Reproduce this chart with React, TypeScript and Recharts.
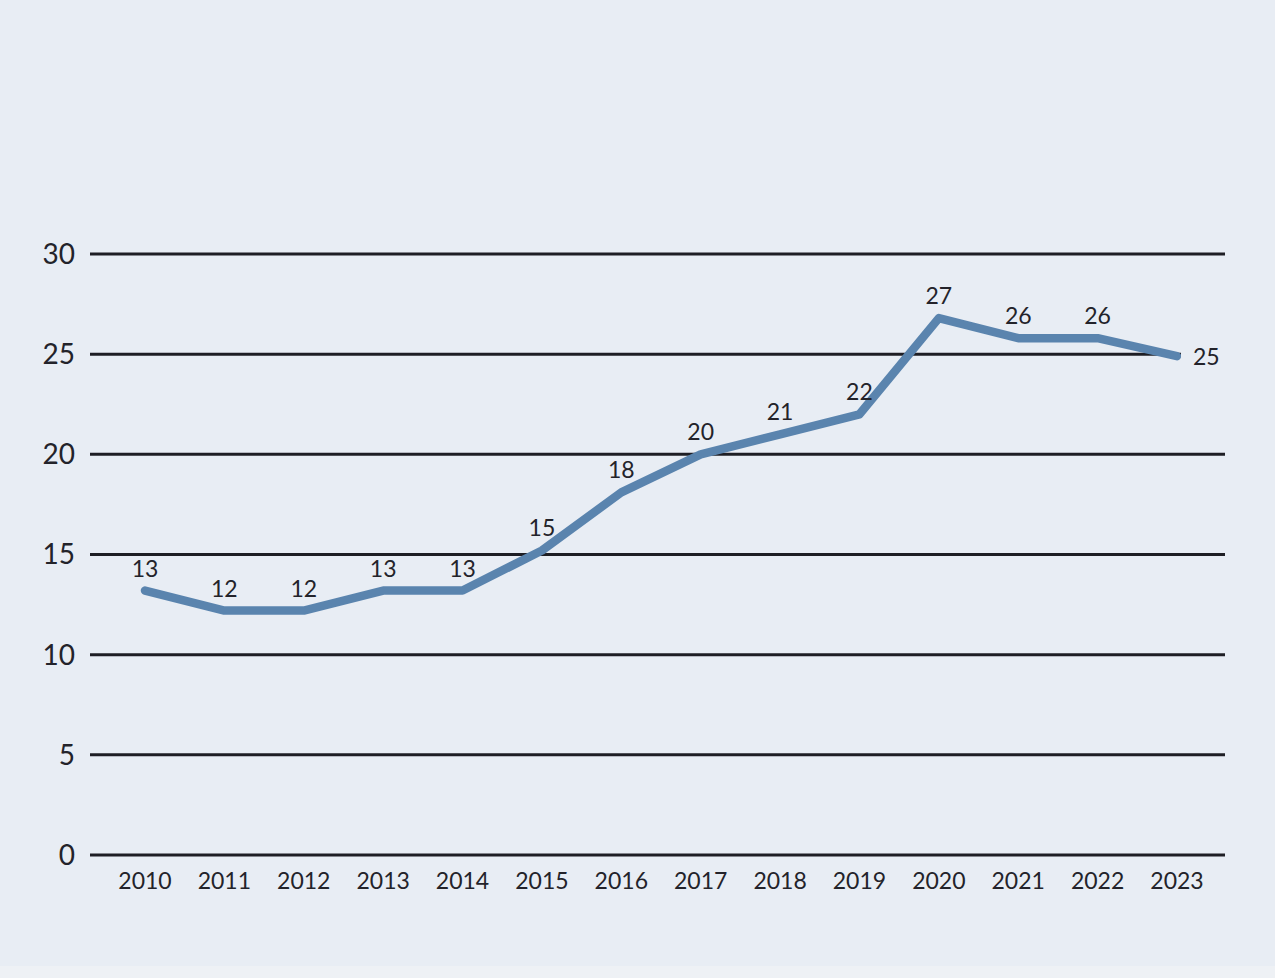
import { CartesianGrid, LabelList, Line, LineChart, XAxis, YAxis } from 'recharts'

const years = ['2010', '2011', '2012', '2013', '2014', '2015', '2016', '2017', '2018', '2019', '2020', '2021', '2022', '2023']
const values = [13.2, 12.2, 12.2, 13.2, 13.2, 15.2, 18.1, 20, 21, 22, 26.8, 25.8, 25.8, 24.9]
const labels = ['13', '12', '12', '13', '13', '15', '18', '20', '21', '22', '27', '26', '26', '25']
const yTicks = [0, 5, 10, 15, 20, 25, 30]

const data = years.map((year, i) => ({ year, value: values[i], label: labels[i] }))

const font = 'Lato, "Open Sans", sans-serif'
const textColor = '#23232a'
const bg = '#e8edf4'

const renderLabel = (props: any) => {
	const { x, y, index } = props
	const last = index === years.length - 1
	if (last) {
		return (
			<g>
				<rect x={x + 4} y={y - 14} width={46} height={28} fill={bg} />
				<text x={x + 16} y={y + 9} textAnchor='start' fill={textColor} fontSize={23} fontFamily={font}>
					{labels[index]}
				</text>
			</g>
		)
	}
	return (
		<text x={x} y={y - 14} textAnchor='middle' fill={textColor} fontSize={23} fontFamily={font}>
			{labels[index]}
		</text>
	)
}

export default function App() {
	return (
		<div
			style={{
				position: 'absolute',
				top: 0,
				left: 0,
				width: 1275,
				height: 978,
				background: '#eef1f5',
			}}
		>
			<div style={{ position: 'absolute', top: 0, left: 0, width: 1275, height: 966, background: bg }} />
			<div style={{ position: 'absolute', top: 0, left: 0 }}>
				<LineChart
					width={1275}
					height={978}
					data={data}
					margin={{ top: 254, right: 50, left: 0, bottom: 83 }}
				>
					<CartesianGrid vertical={false} stroke='#1e1e24' strokeWidth={3} />
					<XAxis
						dataKey='year'
						axisLine={false}
						tickLine={false}
						tickSize={0}
						tickMargin={18}
						padding={{ left: 55, right: 48 }}
						interval={0}
						tick={{ fill: textColor, fontSize: 23, fontFamily: font }}
						height={40}
					/>
					<YAxis
						domain={[0, 30]}
						ticks={yTicks}
						axisLine={false}
						tickLine={false}
						tickSize={0}
						tickMargin={15}
						width={90}
						tick={{ fill: textColor, fontSize: 28, fontFamily: font }}
					/>
					<Line
						type='linear'
						dataKey='value'
						stroke='#5a84ae'
						strokeWidth={8.5}
						strokeLinecap='round'
						strokeLinejoin='round'
						dot={false}
						isAnimationActive={false}
					>
						<LabelList dataKey='label' content={renderLabel} />
					</Line>
				</LineChart>
			</div>
		</div>
	)
}
